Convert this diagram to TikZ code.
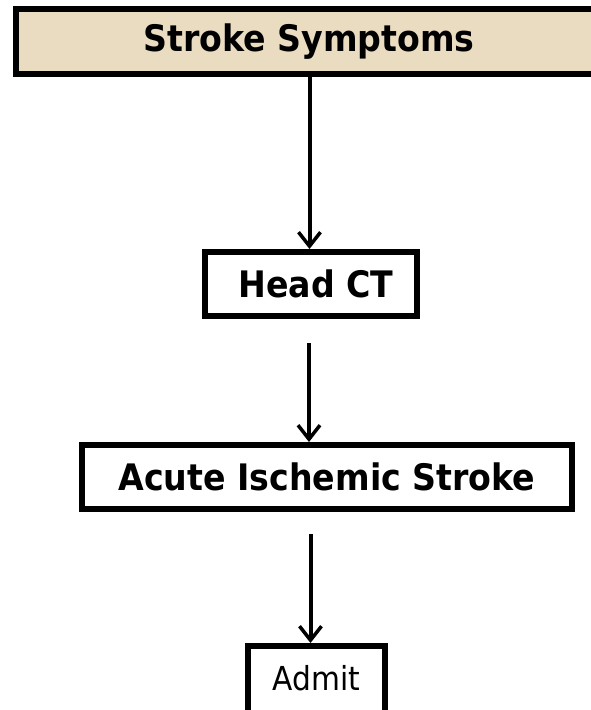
\documentclass[tikz,border=0pt]{standalone}
\usepackage{fontspec}
\setmainfont{DejaVu Sans}
\newfontfamily\narrowbold[FakeStretch=0.91]{DejaVu Sans}
\newfontfamily\narrowreg[FakeStretch=0.9]{DejaVu Sans}
\usetikzlibrary{arrows.meta}
\definecolor{beige}{RGB}{234,220,193}
\begin{document}
\begin{tikzpicture}[x=1pt,y=-1pt,
  box/.style={draw=black, line width=6pt, rectangle, inner sep=0pt, fill=white},
  boldtxt/.style={font=\narrowbold\fontsize{36.5}{42}\selectfont\bfseries},
  plaintxt/.style={font=\narrowreg\fontsize{33}{39}\selectfont},
  flow/.style={line width=4pt, -{Straight Barb[length=14pt,width=22pt,line width=3.5pt]}}]
\useasboundingbox (0,0) rectangle (591,710);
\node[box, fill=beige, boldtxt, minimum width=578pt, minimum height=65pt] (sym) at (305,41.5) {\hspace*{8pt}Stroke Symptoms};
\node[box, boldtxt, minimum width=212pt, minimum height=64pt] (ct) at (311,284) {\hspace*{10pt}Head CT};
\node[box, boldtxt, minimum width=490pt, minimum height=64pt] (ais) at (327,477) {Acute Ischemic Stroke};
\node[box, plaintxt, minimum width=137pt, minimum height=68pt] (adm) at (316.5,680) {\raisebox{5pt}{Admit}};
\coordinate (s2) at (309,343);
\coordinate (s3) at (310.5,534);
\draw[flow] (sym.south -| 309.5,0) -- (ct.north -| 309.5,0);
\draw[flow] (s2) -- (ais.north -| s2);
\draw[flow] (s3) -- (adm.north -| s3);
\end{tikzpicture}
\end{document}
